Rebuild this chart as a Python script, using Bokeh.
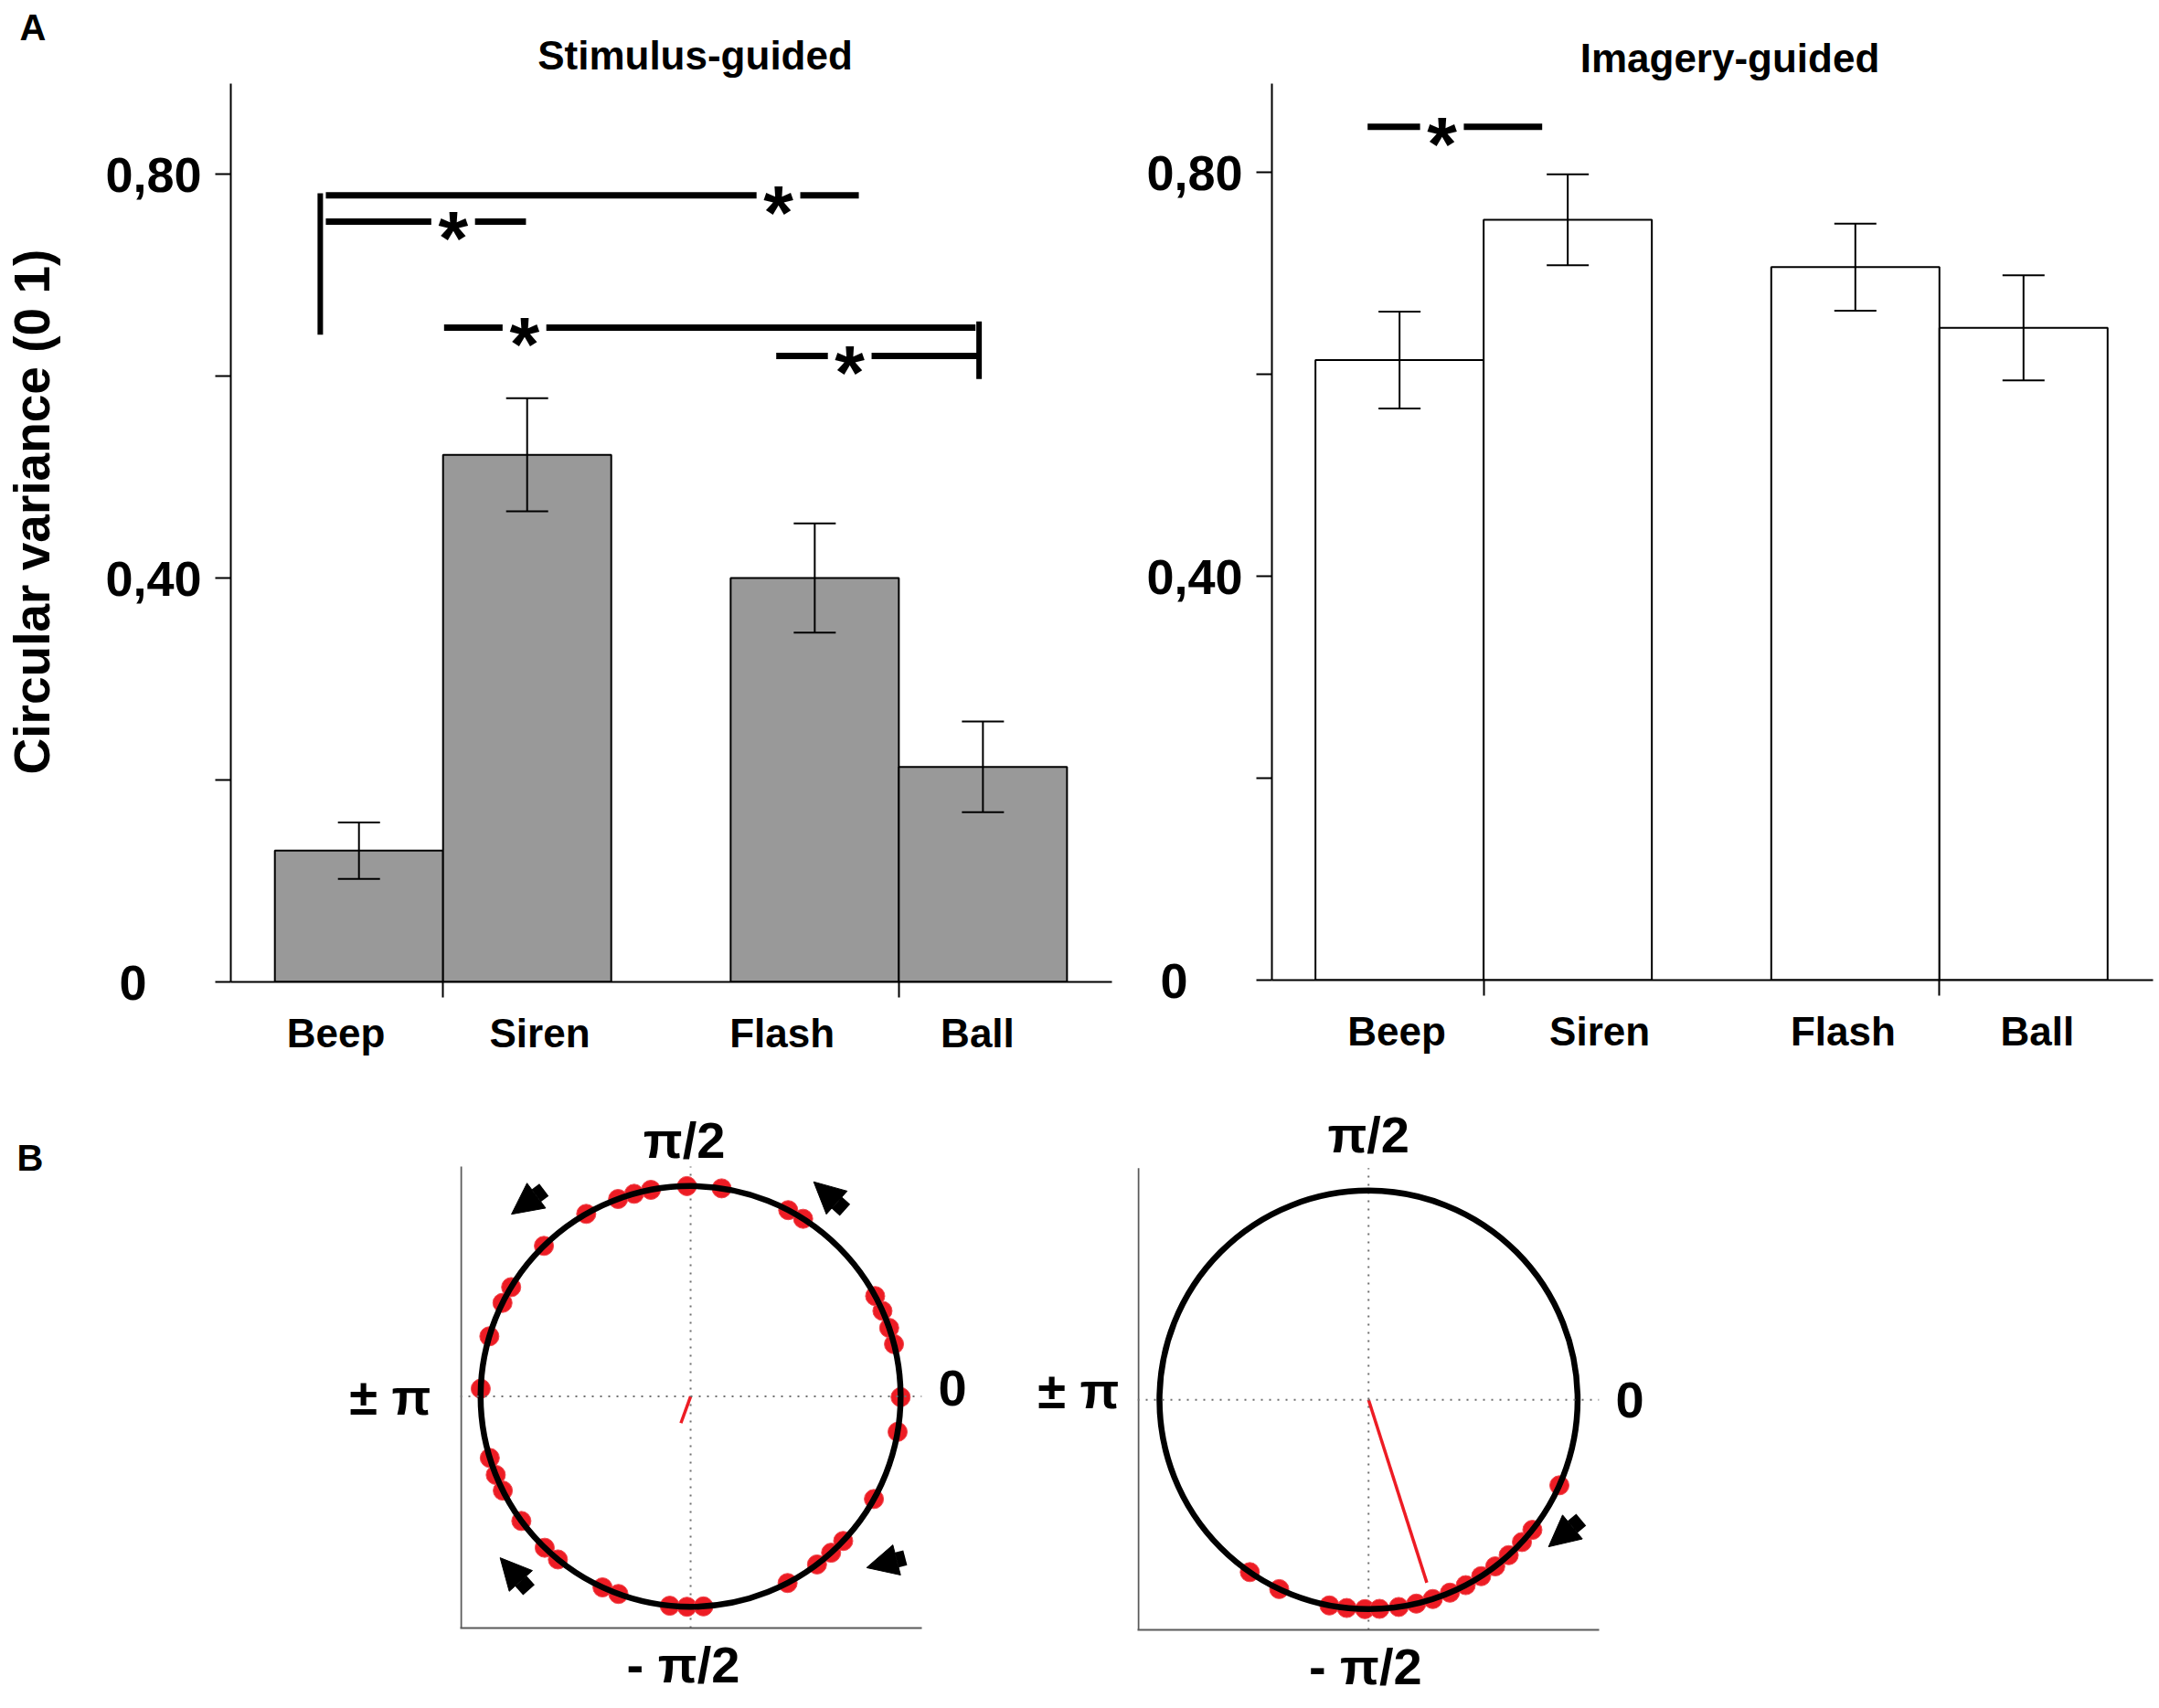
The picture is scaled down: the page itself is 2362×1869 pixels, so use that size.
import numpy as np
from bokeh.plotting import figure
from bokeh.layouts import column, row
from bokeh.models import (Range1d, FixedTicker, LinearAxis, Whisker, TeeHead,
                          ColumnDataSource, Arrow, NormalHead, Span)
from bokeh.core.properties import value
from bokeh.embed import file_html
from bokeh.resources import INLINE

FONT = "Liberation Sans"
NB = "\u00a0"

# ---------------- data: panel A ----------------
categories = ["Beep", "Siren", "Flash", "Ball"]
stimulus_mean = [0.130, 0.522, 0.400, 0.213]
stimulus_sem = [0.028, 0.056, 0.054, 0.045]
imagery_mean = [0.614, 0.753, 0.706, 0.646]
imagery_sem = [0.048, 0.045, 0.043, 0.052]

y_ticks = [0, 0.2, 0.4, 0.6, 0.8]
y_tick_labels = ["0" + NB * 4, "", "0,40", "", "0,80"]

panel_titles = ["Stimulus-guided", "Imagery-guided"]
panel_letters = ["A", "B"]
y_axis_title = "Circular variance (0 1)"

# significance bars (y level, line start, line end, star position)
stim_sig_y = [0.779, 0.753, 0.648, 0.620]
stim_sig_x0 = [0.303, 0.303, 1.006, 2.981]
stim_sig_x1 = [3.472, 1.493, 4.166, 4.177]
stim_sig_star = [2.994, 1.060, 1.484, 3.418]
stim_bracket_x = [0.270, 4.187]
stim_bracket_y0 = [0.641, 0.597]
stim_bracket_y1 = [0.781, 0.654]

img_sig_y = [0.845]
img_sig_x0 = [0.310]
img_sig_x1 = [1.348]
img_sig_star = [0.752]

# ---------------- data: panel B ----------------
phase_labels = ["\u03c0/2", "- \u03c0/2", "\u00b1 \u03c0", "0"]

stim_phase_deg = [91, 81.5, 100.9, 105.6, 110.2, 119.8, 134.3, 148.7, 153.6, 163.4,
                  177.9, 197, 201.9, 206.6, 216.3, 226, 230.8, 245.2, 249.9, 264.3,
                  269, 273.5, 297.5, 307, 312, 316.6, 330.8, 350.3, 359.8, 14.4,
                  19, 24, 28.5, 57.6, 62.3]
stim_mean_angle = 250.0
stim_mean_length = 0.135

img_phase_deg = [235.4, 244.7, 259.2, 264, 269, 273, 278.3, 283.2, 287.9, 292.9,
                 297.7, 302.6, 307.3, 312.1, 317.2, 321.6, 335.9]
img_mean_angle = 287.7
img_mean_length = 0.917

stim_arrow_tail_x = [-0.698, 0.735, 1.022, -0.770]
stim_arrow_tail_y = [0.982, 0.886, -0.767, -0.920]
stim_arrow_tip_x = [-0.853, 0.586, 0.838, -0.907]
stim_arrow_tip_y = [0.866, 1.020, -0.814, -0.767]
img_arrow_tail_x = [1.017]
img_arrow_tail_y = [-0.573]
img_arrow_tip_x = [0.861]
img_arrow_tip_y = [-0.702]

# ---------------- layout constants ----------------
BAR_LEFT = [0.0, 1.0, 2.71, 3.71]
BAR_X = [b + 0.5 for b in BAR_LEFT]
STIM_LABEL_X = [0.363, 1.575, 3.016, 4.178]
IMG_LABEL_X = [0.483, 1.690, 3.137, 4.292]
STAR_GAP = 0.13
HEADER_H = 91
ROW2_BOTTOM = 78


def bold(obj, attr_prefix, size):
    setattr(obj, attr_prefix + "_font", FONT)
    setattr(obj, attr_prefix + "_font_size", size)
    setattr(obj, attr_prefix + "_font_style", "bold")


def clean(p):
    p.outline_line_color = None
    p.grid.visible = False
    return p


def label_axis(p, loc, pos, text, standoff, size, line=False):
    ax = LinearAxis(ticker=FixedTicker(ticks=[pos], minor_ticks=[]))
    ax.major_label_overrides = {pos: text}
    ax.major_tick_line_color = None
    ax.major_tick_out = 0
    ax.major_tick_in = 0
    ax.major_label_standoff = standoff
    bold(ax, "major_label_text", size)
    ax.major_label_text_color = "black"
    if line:
        ax.axis_line_color = "#5a5a5a"
        ax.axis_line_width = 2
    else:
        ax.axis_line_color = None
    p.add_layout(ax, loc)


def bar_panel(means, sems, fill, label_x, sig, x_start, frame_w, frame_h,
              y_end, borders, y_label=None):
    bl, br, bt, bb = borders
    px_per_x = 184.0
    p = clean(figure(frame_width=frame_w, frame_height=frame_h, title=None,
                     x_range=Range1d(x_start, x_start + frame_w / px_per_x),
                     y_range=Range1d(0, y_end),
                     min_border_left=bl, min_border_right=br, min_border_top=bt,
                     min_border_bottom=bb, toolbar_location=None,
                     output_backend="svg", background_fill_color="white",
                     border_fill_color="white"))

    src = ColumnDataSource(dict(x=BAR_X, top=means,
                                upper=[m + s for m, s in zip(means, sems)],
                                lower=[m - s for m, s in zip(means, sems)]))
    p.vbar(x="x", top="top", bottom=0, width=1.0, source=src,
           fill_color=fill, line_color="black", line_width=2)
    p.add_layout(Whisker(base="x", upper="upper", lower="lower", source=src,
                         level="annotation", line_width=2, line_color="black",
                         upper_head=TeeHead(size=46, line_width=2, line_color="black"),
                         lower_head=TeeHead(size=46, line_width=2, line_color="black")))

    sy, sx0, sx1, sstar, bx, by0, by1 = sig
    seg_x0, seg_x1, seg_y = [], [], []
    for y, a, b, s in zip(sy, sx0, sx1, sstar):
        seg_x0 += [a, s + STAR_GAP]
        seg_x1 += [s - STAR_GAP, b]
        seg_y += [y, y]
    p.segment(x0=seg_x0, y0=seg_y, x1=seg_x1, y1=seg_y, line_color="black",
              line_width=7)
    if bx:
        p.segment(x0=bx, y0=by0, x1=bx, y1=by1, line_color="black", line_width=6)
    p.text(x=sstar, y=sy, text=["*"] * len(sstar), text_font=value(FONT),
           text_font_size="84px", text_font_style="bold", text_align="center",
           text_baseline="alphabetic", y_offset=19, text_color="black")

    yax = p.yaxis[0]
    yax.ticker = FixedTicker(ticks=y_ticks, minor_ticks=[])
    yax.major_label_overrides = {t: l for t, l in zip(y_ticks, y_tick_labels)}
    yax.major_tick_out = 17
    yax.major_tick_in = 0
    yax.major_tick_line_width = 2
    yax.axis_line_width = 2
    yax.major_label_standoff = 15
    bold(yax, "major_label_text", "54px")
    yax.major_label_text_color = "black"
    if y_label:
        yax.axis_label = NB * 3 + y_label
        bold(yax, "axis_label_text", "55px")
        yax.axis_label_text_color = "black"
        yax.axis_label_standoff = 46

    xax = p.xaxis[0]
    xax.ticker = FixedTicker(ticks=label_x, minor_ticks=[BAR_LEFT[1], BAR_LEFT[3]])
    xax.major_label_overrides = {t: c for t, c in zip(label_x, categories)}
    xax.major_tick_line_color = None
    xax.major_tick_out = 0
    xax.major_tick_in = 0
    xax.minor_tick_out = 17
    xax.minor_tick_in = 0
    xax.minor_tick_line_width = 2
    xax.minor_tick_line_color = "black"
    xax.axis_line_width = 2
    xax.major_label_standoff = 14
    bold(xax, "major_label_text", "44px")
    xax.major_label_text_color = "black"
    return p


def circle_panel(phases, mean_angle, mean_len, arrows, xr, y_bottom, y_axis_top,
                 px_per_unit, frame_h, borders, label_pos, left_standoff):
    """Frame starts at the top of the row so that the pi/2 label can sit in it;
    the visible left spine stops at y_axis_top."""
    bl, br = borders
    x0, x1 = xr
    y_top = y_bottom + frame_h / px_per_unit
    p = clean(figure(frame_width=505, frame_height=frame_h, x_range=Range1d(x0, x1),
                     y_range=Range1d(y_bottom, y_top), x_axis_type=None,
                     y_axis_type=None, title=None, min_border_left=bl,
                     min_border_right=br, min_border_top=0,
                     min_border_bottom=ROW2_BOTTOM, toolbar_location=None,
                     output_backend="svg", background_fill_color="white",
                     border_fill_color="white"))

    # dotted reference lines through the origin
    p.add_layout(Span(location=0, dimension="width", line_color="#707070",
                      line_width=2, line_dash="2 7"))
    p.segment(x0=[0], y0=[y_bottom], x1=[0], y1=[y_axis_top], line_color="#707070",
              line_width=2, line_dash="2 7")
    # left spine (1 px inside the frame edge so it is not clipped)
    spine_x = x0 + 1.0 / px_per_unit
    p.segment(x0=[spine_x], y0=[y_bottom], x1=[spine_x], y1=[y_axis_top],
              line_color="#5a5a5a", line_width=2)

    th = np.deg2rad(np.array(phases, dtype=float))
    p.scatter(x=np.cos(th), y=np.sin(th), size=21, fill_color="#ed1c24",
              line_color="#f0484e", line_width=1)
    p.ellipse(x=0, y=0, width=2, height=2, fill_color=None, line_color="black",
              line_width=6.5)
    ma = np.deg2rad(mean_angle)
    p.segment(x0=[0], y0=[0], x1=[mean_len * np.cos(ma)], y1=[mean_len * np.sin(ma)],
              line_color="#ed1c24", line_width=3.5)

    tx, ty, hx, hy = arrows
    for a, b, c, d in zip(tx, ty, hx, hy):
        p.add_layout(Arrow(x_start=a, y_start=b, x_end=c, y_end=d, line_width=17,
                           line_color="black",
                           end=NormalHead(size=34, fill_color="black",
                                          line_color="black", line_width=1)))

    top_x, top_px, bot_x, left_y, right_y = label_pos
    p.text(x=[top_x], y=[y_top - top_px / px_per_unit], text=[phase_labels[0]],
           text_font=value(FONT), text_font_size="56px", text_font_style="bold",
           text_align="center", text_baseline="alphabetic", text_color="black")
    label_axis(p, "below", bot_x, phase_labels[1], 8, "56px", line=True)
    label_axis(p, "left", left_y, phase_labels[2], left_standoff, "56px")
    label_axis(p, "right", right_y, phase_labels[3], 18, "56px")
    return p


# ---- header with panel letter A and the two panel titles ----
header = clean(figure(width=2357, height=HEADER_H, x_range=Range1d(0, 2357),
                      y_range=Range1d(HEADER_H, 0), x_axis_type=None, y_axis_type=None,
                      min_border=0, title=None, toolbar_location=None,
                      output_backend="svg", background_fill_color="white",
                      border_fill_color="white"))
header.text(x=[21], y=[29], text=[panel_letters[0]], text_font=value(FONT),
            text_font_size="40px", text_font_style="bold", text_align="left",
            text_baseline="alphabetic", text_color="black")
header.text(x=[760, 1892], y=[60, 63], text=panel_titles, text_font=value(FONT),
            text_font_size="44px", text_font_style="bold", text_align="center",
            text_baseline="alphabetic", text_color="black")

a1 = bar_panel(stimulus_mean, stimulus_sem, "#999999", STIM_LABEL_X,
               (stim_sig_y, stim_sig_x0, stim_sig_x1, stim_sig_star,
                stim_bracket_x, stim_bracket_y0, stim_bracket_y1),
               x_start=-0.262, frame_w=964, frame_h=983, y_end=983 / 1105.0,
               borders=(252, 15, 0, 116), y_label=y_axis_title)

a2 = bar_panel(imagery_mean, imagery_sem, "white", IMG_LABEL_X,
               (img_sig_y, img_sig_x0, img_sig_x1, img_sig_star, [], [], []),
               x_start=-0.259, frame_w=964, frame_h=981, y_end=981 / 1105.0,
               borders=(160, 2, 0, 118))

# ---- strip carrying the panel letter B ----
strip_b = clean(figure(frame_width=120, frame_height=591, x_range=Range1d(0, 120),
                       y_range=Range1d(591, 0), x_axis_type=None, y_axis_type=None,
                       min_border_left=0, min_border_right=0, min_border_top=0,
                       min_border_bottom=ROW2_BOTTOM, title=None,
                       toolbar_location=None, output_backend="svg",
                       background_fill_color="white", border_fill_color="white"))
strip_b.text(x=[18], y=[76], text=[panel_letters[1]], text_font=value(FONT),
             text_font_size="40px", text_font_style="bold", text_align="left",
             text_baseline="alphabetic", text_color="black")

b1 = circle_panel(stim_phase_deg, stim_mean_angle, stim_mean_length,
                  (stim_arrow_tail_x, stim_arrow_tail_y, stim_arrow_tip_x, stim_arrow_tip_y),
                  (-1.097, 1.101), -1.101, 1.093, 230.2, 591, (383, 60),
                  (-0.03, 57, -0.035, 0.0, 0.04), 32)

b2 = circle_panel(img_phase_deg, img_mean_angle, img_mean_length,
                  (img_arrow_tail_x, img_arrow_tail_y, img_arrow_tip_x, img_arrow_tip_y),
                  (-1.105, 1.103), -1.099, 1.107, 229.0, 593, (176, 80),
                  (0.0, 51, -0.015, 0.047, 0.0), 20)

layout = column(header, row(a1, a2), row(strip_b, b1, b2))
open("out.html", "w").write(file_html(layout, INLINE))
